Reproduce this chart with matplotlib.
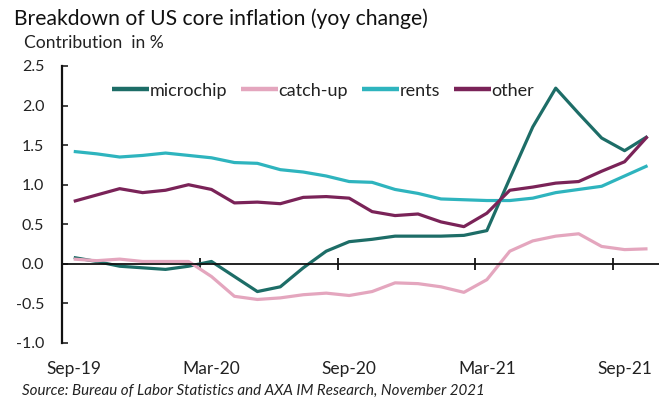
import matplotlib
matplotlib.use("Agg")
import matplotlib.pyplot as plt
from matplotlib.transforms import blended_transform_factory

plt.rcParams['font.family'] = ['Lato', 'DejaVu Sans']

months = ['Sep-19', 'Oct-19', 'Nov-19', 'Dec-19', 'Jan-20', 'Feb-20', 'Mar-20',
          'Apr-20', 'May-20', 'Jun-20', 'Jul-20', 'Aug-20', 'Sep-20', 'Oct-20',
          'Nov-20', 'Dec-20', 'Jan-21', 'Feb-21', 'Mar-21', 'Apr-21', 'May-21',
          'Jun-21', 'Jul-21', 'Aug-21', 'Sep-21', 'Oct-21']

microchip = [0.08, 0.03, -0.03, -0.05, -0.07, -0.03, 0.03, -0.16, -0.35, -0.29,
             -0.05, 0.16, 0.28, 0.31, 0.35, 0.35, 0.35, 0.36, 0.42, 1.08,
             1.73, 2.22, 1.90, 1.59, 1.43, 1.61]
catch_up = [0.06, 0.04, 0.06, 0.03, 0.03, 0.03, -0.16, -0.41, -0.45, -0.43,
            -0.39, -0.37, -0.40, -0.35, -0.24, -0.25, -0.29, -0.36, -0.20, 0.16,
            0.29, 0.35, 0.38, 0.22, 0.18, 0.19]
rents = [1.42, 1.39, 1.35, 1.37, 1.40, 1.37, 1.34, 1.28, 1.27, 1.19,
         1.16, 1.11, 1.04, 1.03, 0.94, 0.89, 0.82, 0.81, 0.80, 0.80,
         0.83, 0.90, 0.94, 0.98, 1.11, 1.24]
other = [0.79, 0.87, 0.95, 0.90, 0.93, 1.00, 0.94, 0.77, 0.78, 0.76,
         0.84, 0.85, 0.83, 0.66, 0.61, 0.63, 0.53, 0.47, 0.64, 0.93,
         0.97, 1.02, 1.04, 1.17, 1.29, 1.61]

series = [
    ('microchip', microchip, '#1d6d67'),
    ('catch-up', catch_up, '#e4a6be'),
    ('rents', rents, '#2eb4be'),
    ('other', other, '#7a2358'),
]

tick_months = ['Sep-19', 'Mar-20', 'Sep-20', 'Mar-21', 'Sep-21']
y_ticks = [-1.0, -0.5, 0.0, 0.5, 1.0, 1.5, 2.0, 2.5]

fig = plt.figure(figsize=(6.59, 3.98), dpi=100)
ax = fig.add_axes([0.0945, 0.1382, 0.9055, 0.696])

x = list(range(len(months)))
for name, vals, color in series:
    ax.plot(x, vals, color=color, lw=2.3, label=name, solid_capstyle='butt')

ax.set_xlim(-0.5, len(months) - 0.5)
ax.set_ylim(-1.0, 2.5)

# y axis
ax.set_yticks(y_ticks)
ax.set_yticklabels([f'{v:.1f}' for v in y_ticks])
ax.tick_params(axis='y', direction='in', length=4, width=1.2, pad=13,
               labelsize=11.5, colors='#222222')
ax.spines['left'].set_linewidth(1.6)
ax.spines['left'].set_color('#111111')

# x axis sits on zero; ticks at category boundaries
ax.spines['bottom'].set_position(('data', 0))
ax.spines['bottom'].set_linewidth(1.3)
ax.spines['bottom'].set_color('#111111')
ax.spines['top'].set_visible(False)
ax.spines['right'].set_visible(False)
idx = [months.index(m) for m in tick_months]
ax.set_xticks([i - 0.5 for i in idx])
ax.tick_params(axis='x', direction='inout', length=8, width=1.2,
               labelbottom=False)

# month labels along the bottom of the plot
tr = blended_transform_factory(ax.transData, ax.transAxes)
for i, m in zip(idx, tick_months):
    ax.text(i, -0.095, m, transform=tr, ha='center', va='center',
            fontsize=12.5, color='#222222')

leg = ax.legend(ncol=4, loc='center left', bbox_to_anchor=(0.083, 0.911),
                frameon=False, fontsize=13, handlelength=2.05,
                handletextpad=0.05, columnspacing=0.75, borderaxespad=0,
                borderpad=0)
for line in leg.get_lines():
    line.set_linewidth(3.2)
for t in leg.get_texts():
    t.set_color('#222222')

fig.text(0.021, 0.953, 'Breakdown of US core inflation (yoy change)',
         fontsize=15.2, color='#111111', ha='left', va='center')
fig.text(0.036, 0.892, 'Contribution  in %', fontsize=12.6,
         color='#222222', ha='left', va='center')
fig.text(0.034, 0.018,
         'Source: Bureau of Labor Statistics and AXA IM Research, November 2021',
         fontsize=10.9, style='italic', color='#222222', ha='left', va='center')

fig.savefig('out.png', dpi=100)
